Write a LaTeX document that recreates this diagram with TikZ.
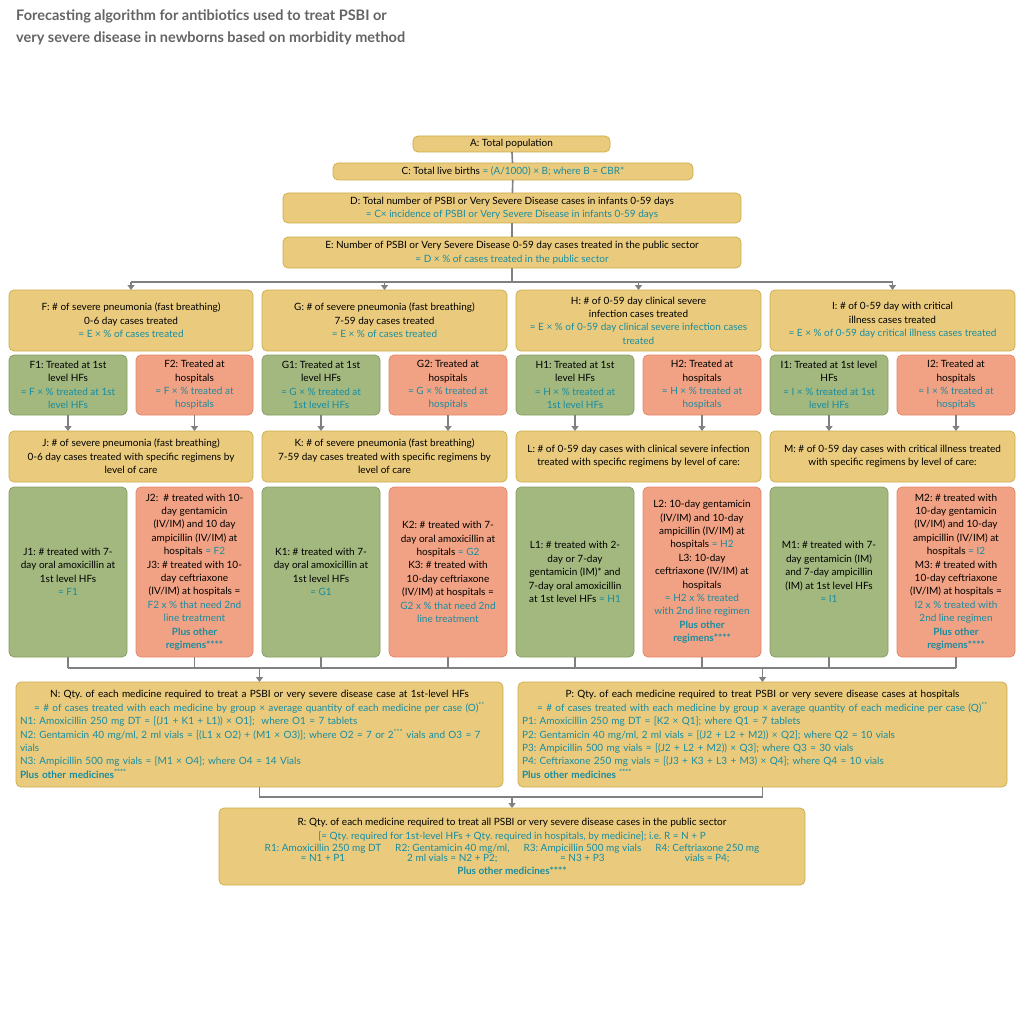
\documentclass[tikz,border=0pt]{standalone}
\usepackage{fontspec}
\setmainfont{Lato}
\frenchspacing
\usetikzlibrary{arrows.meta}
\definecolor{gfill}{RGB}{234,203,125}
\definecolor{gdraw}{RGB}{205,172,72}
\definecolor{vfill}{RGB}{162,184,126}
\definecolor{vdraw}{RGB}{132,157,96}
\definecolor{pfill}{RGB}{242,162,132}
\definecolor{pdraw}{RGB}{226,132,102}
\definecolor{tealc}{RGB}{25,140,160}
\definecolor{arrc}{RGB}{128,128,128}
\definecolor{titc}{RGB}{100,100,100}
\newcommand\tl[1]{\textcolor{tealc}{#1}}
\newcommand\bt[1]{\textcolor{tealc}{\bfseries #1}}
\newcommand\bx[7]{\node[#6, minimum width={#4pt-#2pt}, minimum height={#5pt-#3pt}] (#1) at ({(#2+#4)/2},{(#3+#5)/2}) {#7};}
\tikzset{
 base/.style={rounded corners=5pt, line width=0.7pt, align=center, inner sep=1pt, outer sep=0pt, font=\fontsize{10}{13.4}\selectfont},
 gold/.style={base, fill=gfill, draw=gdraw},
 grn/.style={base, fill=vfill, draw=vdraw},
 pnk/.style={base, fill=pfill, draw=pdraw},
 ln/.style={draw=arrc, line width=1.6pt},
 arr/.style={ln, -{Triangle[length=5pt,width=7pt]}}
}
\begin{document}
\begin{tikzpicture}[x=1pt,y=-1pt]
\useasboundingbox (0,0) rectangle (1024,1024);
\node[anchor=north west, align=left, text=titc, font=\fontsize{14.5}{22}\selectfont\bfseries, inner sep=0pt] (title) at (16,10) {Forecasting algorithm for antibiotics used to treat PSBI or\\very severe disease in newborns based on morbidity method};
\bx{A}{413}{136}{610}{152}{gold}{A: Total population}
\bx{C}{333}{163}{693}{180}{gold}{C: Total live births \tl{= (A/1000) × B; where B = CBR*}}
\bx{D}{283}{193}{741}{223}{gold}{D: Total number of PSBI or Very Severe Disease cases in infants 0-59 days\\\tl{= C× incidence of PSBI or Very Severe Disease in infants 0-59 days}}
\bx{E}{283}{237}{741}{268}{gold}{E: Number of PSBI or Very Severe Disease 0-59 day cases treated in the public sector\\\tl{= D × \% of cases treated in the public sector}}
\bx{F}{9}{290}{253}{351}{gold}{F: \# of severe pneumonia (fast breathing)\\0-6 day cases treated\\\tl{= E × \% of cases treated}}
\bx{G}{262}{290}{507}{351}{gold}{G: \# of severe pneumonia (fast breathing)\\7-59 day cases treated\\\tl{= E × \% of cases treated}}
\bx{H}{516}{290}{761}{351}{gold}{H: \# of 0-59 day clinical severe\\infection cases treated\\\tl{= E × \% of 0-59 day clinical severe infection cases}\\\tl{treated}}
\bx{I}{770}{290}{1015}{351}{gold}{I: \# of 0-59 day with critical\\illness cases treated\\\tl{= E × \% of 0-59 day critical illness cases treated}}
\bx{F1}{9}{355}{127}{415}{grn}{F1: Treated at 1st\\level HFs\\\tl{= F × \% treated at 1st}\\\tl{level HFs}}
\bx{F2}{136}{355}{253}{415}{pnk}{F2: Treated at\\hospitals\\\tl{= F × \% treated at}\\\tl{hospitals}}
\bx{G1}{262}{355}{380}{415}{grn}{G1: Treated at 1st\\level HFs\\\tl{= G × \% treated at}\\\tl{1st level HFs}}
\bx{G2}{389}{355}{507}{415}{pnk}{G2: Treated at\\hospitals\\\tl{= G × \% treated at}\\\tl{hospitals}}
\bx{H1}{516}{355}{634}{415}{grn}{H1: Treated at 1st\\level HFs\\\tl{= H × \% treated at}\\\tl{1st level HFs}}
\bx{H2}{643}{355}{761}{415}{pnk}{H2: Treated at\\hospitals\\\tl{= H × \% treated at}\\\tl{hospitals}}
\bx{I1}{770}{355}{888}{415}{grn}{I1: Treated at 1st level\\HFs\\\tl{= I × \% treated at 1st}\\\tl{level HFs}}
\bx{I2}{897}{355}{1015}{415}{pnk}{I2: Treated at\\hospitals\\\tl{= I × \% treated at}\\\tl{hospitals}}
\bx{J}{9}{431}{253}{482}{gold}{J: \# of severe pneumonia (fast breathing)\\0-6 day cases treated with specific regimens by\\level of care}
\bx{K}{262}{431}{507}{482}{gold}{K: \# of severe pneumonia (fast breathing)\\7-59 day cases treated with specific regimens by\\level of care}
\bx{L}{516}{431}{761}{482}{gold}{L: \# of 0-59 day cases with clinical severe infection\\treated with specific regimens by level of care:}
\bx{M}{770}{431}{1015}{482}{gold}{M: \# of 0-59 day cases with critical illness treated\\with specific regimens by level of care:}
\bx{J1}{9}{487}{127}{657}{grn}{J1: \# treated with 7-\\day oral amoxicillin at\\1st level HFs\\\tl{= F1}}
\bx{J2}{136}{487}{253}{657}{pnk}{J2:\ \ \# treated with 10-\\day gentamicin\\(IV/IM) and 10 day\\ampicillin (IV/IM) at\\hospitals \tl{= F2}\\J3: \# treated with 10-\\day ceftriaxone\\(IV/IM) at hospitals =\\\tl{F2 x \% that need 2nd}\\\tl{line treatment}\\\bt{Plus other}\\\bt{regimens****}}
\bx{K1}{262}{487}{380}{657}{grn}{K1: \# treated with 7-\\day oral amoxicillin at\\1st level HFs\\\tl{= G1}}
\bx{K2}{389}{487}{507}{657}{pnk}{K2: \# treated with 7-\\day oral amoxicillin at\\hospitals \tl{= G2}\\K3: \# treated with\\10-day ceftriaxone\\(IV/IM) at hospitals =\\\tl{G2 x \% that need 2nd}\\\tl{line treatment}}
\bx{L1}{516}{487}{634}{657}{grn}{L1: \# treated with 2-\\day or 7-day\\gentamicin (IM)* and\\7-day oral amoxicillin\\at 1st level HFs \tl{= H1}}
\bx{L2}{643}{487}{761}{657}{pnk}{L2: 10-day gentamicin\\(IV/IM) and 10-day\\ampicillin (IV/IM) at\\hospitals \tl{= H2}\\L3: 10-day\\ceftriaxone (IV/IM) at\\hospitals\\\tl{= H2 x \% treated}\\\tl{with 2nd line regimen}\\\bt{Plus other}\\\bt{regimens****}}
\bx{M1}{770}{487}{888}{657}{grn}{M1: \# treated with 7-\\day gentamicin (IM)\\and 7-day ampicillin\\(IM) at 1st level HFs\\\tl{= I1}}
\bx{M2}{897}{487}{1015}{657}{pnk}{M2: \# treated with\\10-day gentamicin\\(IV/IM) and 10-day\\ampicillin (IV/IM) at\\hospitals \tl{= I2}\\M3: \# treated with\\10-day ceftriaxone\\(IV/IM) at hospitals =\\\tl{I2 x \% treated with}\\\tl{2nd line regimen}\\\bt{Plus other}\\\bt{regimens****}}
\node[gold, align=left, text width=479pt, minimum height=105pt, inner sep=4pt] (N) at (259.5,734.5) {{\centering N: Qty. of each medicine required to treat a PSBI or very severe disease case at 1st-level HFs\\\tl{= \# of cases treated with each medicine by group × average quantity of each medicine per case (O)\textsuperscript{**}}\par}\color{tealc}N1: Amoxicillin 250 mg DT = [(J1 + K1 + L1)) × O1];\ \ where O1 = 7 tablets\\N2: Gentamicin 40 mg/ml, 2 ml vials = [(L1 x O2) + (M1 × O3)]; where O2 = 7 or 2\textsuperscript{***} vials and O3 = 7 vials\\N3: Ampicillin 500 mg vials = [M1 × O4]; where O4 = 14 Vials\\\textbf{Plus other medicines\textsuperscript{****}}};
\node[gold, align=left, text width=481pt, minimum height=105pt, inner sep=4pt] (P) at (762.5,734.5) {{\centering P: Qty. of each medicine required to treat PSBI or very severe disease cases at hospitals\\\tl{= \# of cases treated with each medicine by group × average quantity of each medicine per case (Q)\textsuperscript{**}}\par}\color{tealc}P1: Amoxicillin 250 mg DT = [K2 × Q1]; where Q1 = 7 tablets\\P2: Gentamicin 40 mg/ml, 2 ml vials = [(J2 + L2 + M2)) × Q2]; where Q2 = 10 vials\\P3: Ampicillin 500 mg vials = [(J2 + L2 + M2)) × Q3]; where Q3 = 30 vials\\P4: Ceftriaxone 250 mg vials = [(J3 + K3 + L3 + M3) × Q4]; where Q4 = 10 vials\\\textbf{Plus other medicines \textsuperscript{****}}};
\bx{R}{219}{808}{805}{885}{gold}{R: Qty. of each medicine required to treat all PSBI or very severe disease cases in the public sector\\\tl{[= Qty. required for 1st-level HFs + Qty. required in hospitals, by medicine]; i.e. R = N + P}\\{\color{tealc}\begin{tabular}{@{}c@{\hspace{14pt}}c@{\hspace{14pt}}c@{\hspace{14pt}}c@{}}R1: Amoxicillin 250 mg DT & R2: Gentamicin 40 mg/ml, & R3: Ampicillin 500 mg vials & R4: Ceftriaxone 250 mg\\[-3pt]= N1 + P1 & 2 ml vials = N2 + P2; & = N3 + P3 & vials = P4;\end{tabular}}\\\bt{Plus other medicines****}}
% connectors
\coordinate (h) at (512,282);
\coordinate (b) at (512,668);
\coordinate (c) at (512,797);
\draw[ln] (A) -- (C);
\draw[ln] (C) -- (D);
\draw[ln] (D) -- (E);
\draw[ln] (E) -- (h);
\draw[ln] (F.north|-h) -- (I.north|-h);
\foreach \n in {F,G,H,I} \draw[arr] (\n.north|-h) -- (\n.north);
\draw[arr] (F1) -- (F1.south|-J.north);
\draw[arr] (F2) -- (F2.south|-J.north);
\draw[arr] (G1) -- (G1.south|-K.north);
\draw[arr] (G2) -- (G2.south|-K.north);
\draw[arr] (H1) -- (H1.south|-L.north);
\draw[arr] (H2) -- (H2.south|-L.north);
\draw[arr] (I1) -- (I1.south|-M.north);
\draw[arr] (I2) -- (I2.south|-M.north);
\foreach \n in {J1,J2,K1,K2,L1,L2,M1,M2} \draw[ln] (\n.south) -- (\n.south|-b);
\draw[ln] (J1.south|-b) -- (M2.south|-b);
\draw[arr] (N.north|-b) -- (N.north);
\draw[arr] (P.north|-b) -- (P.north);
\draw[ln] (N.south) -- (N.south|-c) -- (P.south|-c) -- (P.south);
\draw[arr] (c) -- (R.north);
\end{tikzpicture}
\end{document}
